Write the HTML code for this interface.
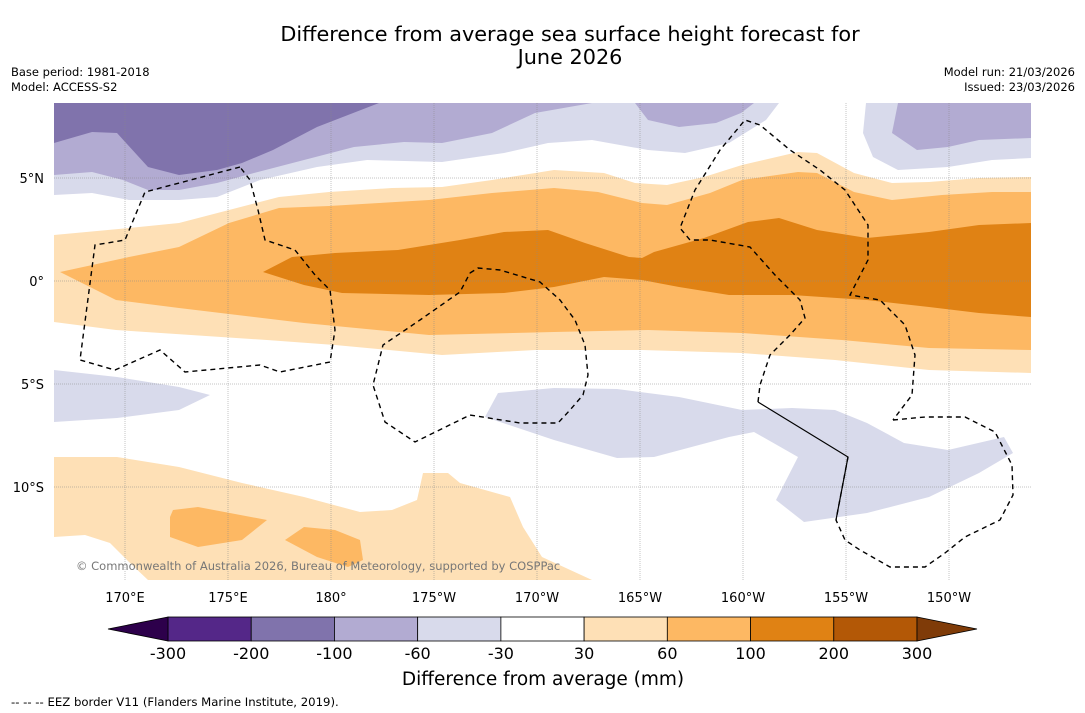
<!DOCTYPE html>
<html><head><meta charset="utf-8">
<style>
body{margin:0;background:#fff;font-family:"DejaVu Sans","Liberation Sans",sans-serif;}
#wrap{position:relative;width:1085px;height:713px;overflow:hidden;background:#fff;}
</style></head>
<body>
<div id="wrap">
<svg id="svg" width="1085" height="713" xmlns="http://www.w3.org/2000/svg" font-family="DejaVu Sans, Liberation Sans, sans-serif">
<text x="570" y="41" text-anchor="middle" font-size="20.8" fill="#000">Difference from average sea surface height forecast for</text>
<text x="570" y="64" text-anchor="middle" font-size="20.8" fill="#000">June 2026</text>
<text x="11" y="76" font-size="11.5">Base period: 1981-2018</text>
<text x="11" y="91" font-size="11.5">Model: ACCESS-S2</text>
<text x="1075" y="76" font-size="11.5" text-anchor="end">Model run: 21/03/2026</text>
<text x="1075" y="91" font-size="11.5" text-anchor="end">Issued: 23/03/2026</text>
<defs><clipPath id="mapclip"><rect x="54" y="103" width="977" height="477"/></clipPath></defs>
<g id="map" clip-path="url(#mapclip)"></g>
<g id="axes"></g>
<g id="cbar"></g>
<text x="543" y="685" text-anchor="middle" font-size="18.5">Difference from average (mm)</text>
<text x="11" y="706" font-size="11.7">--  --  -- EEZ border V11 (Flanders Marine Institute, 2019).</text>
</svg>
</div>
<script>
// Colorbar data
const levels = [-300,-200,-100,-60,-30,30,60,100,200,300];
const levelColors = ["#542788","#8073ac","#b2abd2","#d8daeb","#ffffff","#fee0b6","#fdb863","#e08214","#b35806"];
const extendColors = ["#2d004b","#7f3b08"];
// Axis ticks
const lonTicks = [170,175,180,185,190,195,200,205,210];
const lonLabels = ["170°E","175°E","180°","175°W","170°W","165°W","160°W","155°W","150°W"];
const latTicks = [5,0,-5,-10];
const latLabels = ["5°N","0°","5°S","10°S"];

const NS="http://www.w3.org/2000/svg";
const xLon = lon => 125 + (lon-170)*20.6;
const yLat = lat => 281 - lat*20.6;
function mk(tag, attrs, parent){const e=document.createElementNS(NS,tag);for(const k in attrs)e.setAttribute(k,attrs[k]);parent.appendChild(e);return e;}
const map=document.getElementById('map');
const pts=a=>a.map(p=>p.join(',')).join(' ');

// Contour fill shapes (map geometry, screen coords)
const shapes = [
 ["#d8daeb","band-light-purple-north",[[54,103],[779,103],[766,120],[729,143],[685,153],[648,150],[592,140],[548,143],[504,153],[442,162],[367,160],[317,167],[260,180],[217,197],[179,200],[129,200],[92,193],[54,195]]],
 ["#d8daeb","band-light-purple-ne",[[866,103],[863,133],[873,157],[898,170],[948,167],[992,160],[1031,158],[1031,103]]],
 ["#b2abd2","band-mid-purple-north",[[54,103],[592,103],[535,113],[492,133],[442,143],[404,142],[354,147],[304,160],[254,173],[217,183],[179,190],[148,190],[123,180],[92,172],[54,175]]],
 ["#b2abd2","band-mid-purple-center",[[635,103],[648,120],[679,127],[716,123],[741,113],[754,103]]],
 ["#b2abd2","band-mid-purple-ne",[[898,103],[892,133],[917,150],[948,147],[979,140],[1031,138],[1031,103]]],
 ["#8073ac","band-dark-purple-nw",[[54,143],[92,132],[117,133],[148,167],[179,175],[217,170],[242,163],[273,150],[317,127],[379,103],[54,103]]],
 ["#fee0b6","band-light-orange-equator",[[54,235],[129,228],[179,223],[229,210],[279,197],[329,192],[392,188],[442,187],[492,180],[554,170],[604,173],[635,183],[667,185],[704,177],[742,165],[798,152],[817,153],[854,173],[892,183],[929,182],[979,178],[1031,177],[1031,373],[929,370],[835,360],[742,353],[642,350],[535,350],[442,355],[335,345],[267,340],[116,330],[54,322]]],
 ["#fdb863","band-mid-orange-equator",[[60,272],[129,257],[179,247],[229,223],[279,208],[329,206],[379,203],[429,200],[492,193],[554,188],[598,192],[642,203],[667,205],[710,193],[742,180],[798,172],[817,173],[854,192],[892,200],[942,195],[992,192],[1031,192],[1031,350],[929,348],[842,340],[742,333],[648,330],[554,332],[429,335],[304,323],[179,308],[116,300]]],
 ["#e08214","band-dark-orange-equator",[[263,272],[292,257],[335,253],[398,250],[460,240],[504,232],[548,230],[585,243],[629,257],[642,258],[654,252],[704,238],[748,222],[779,218],[817,230],[867,238],[929,232],[979,225],[1031,223],[1031,317],[979,313],[929,307],[867,300],[792,295],[729,295],[679,287],[642,280],[604,277],[554,287],[504,293],[429,295],[342,293],[304,285]]],
 ["#d8daeb","band-light-purple-west",[[54,370],[117,377],[179,387],[210,395],[179,410],[117,418],[54,422]]],
 ["#d8daeb","band-light-purple-south",[[498,393],[554,388],[617,389],[679,397],[742,410],[792,408],[835,410],[867,423],[904,443],[948,450],[1004,437],[1013,453],[979,473],[929,497],[867,513],[804,522],[776,500],[798,457],[754,432],[729,437],[654,457],[617,458],[554,440],[485,417]]],
 ["#fee0b6","band-light-orange-south",[[54,457],[117,457],[179,467],[242,483],[304,497],[360,512],[392,510],[417,500],[423,473],[448,473],[460,483],[510,497],[523,527],[542,557],[592,580],[148,580],[129,562],[110,543],[85,535],[54,537]]],
 ["#fdb863","island-mid-orange-a",[[173,510],[198,507],[267,520],[242,540],[198,547],[170,537],[170,517]]],
 ["#fdb863","island-mid-orange-b",[[285,540],[304,527],[335,530],[360,540],[363,560],[348,567],[317,557]]]
];
shapes.forEach(s=>{
 const p=mk('polygon',{points:pts(s[2]),fill:s[0]},map);
 
 
});

// gridlines
lonTicks.forEach(l=>{const g=mk('line',{x1:xLon(l),x2:xLon(l),y1:103,y2:580,stroke:'#888','stroke-width':0.5,'stroke-dasharray':'1,1'},map);
 
 });
latTicks.forEach(l=>{const g=mk('line',{x1:54,x2:1031,y1:yLat(l),y2:yLat(l),stroke:'#888','stroke-width':0.5,'stroke-dasharray':'1,1'},map);
 
 });

// EEZ borders
const eez = [
 [[240,167],[145,192],[125,240],[95,245],[80,360],[115,370],[160,350],[185,372],[260,365],[280,372],[330,362],[335,330],[330,290],[315,275],[295,250],[265,240],[258,210],[250,180],[240,167]],
 [[470,273],[478,268],[500,270],[540,282],[560,300],[575,320],[585,345],[588,375],[583,395],[570,410],[558,423],[520,423],[470,415],[415,442],[385,422],[373,385],[383,345],[420,320],[460,292],[470,273]],
 [[758,402],[760,385],[770,355],[790,335],[805,318],[800,300],[775,275],[750,247],[710,240],[690,240],[680,228],[695,190],[720,150],[745,120],[760,125],[790,150],[820,170],[845,190],[868,225],[868,260],[850,295],[880,300],[905,325],[915,355],[912,395],[893,420]],
 [[893,420],[925,417],[965,417],[995,432],[1012,465],[1013,495],[1000,520],[965,537],[945,553],[925,567],[890,567],[860,550],[845,540],[836,520],[848,457]]
];
eez.forEach(l=>{const p=mk('polyline',{points:pts(l),fill:'none',stroke:'#000','stroke-width':1.4,'stroke-dasharray':'5,4'},map);
 
 });
const sol=mk('polyline',{points:pts([[758,402],[848,457],[836,520]]),fill:'none',stroke:'#000','stroke-width':1.2},map);



// copyright
const cp=mk('text',{x:76,y:570,'font-size':11.5,fill:'#777'},map);
cp.textContent='© Commonwealth of Australia 2026, Bureau of Meteorology, supported by COSPPac';



// axis labels
const axes=document.getElementById('axes');
lonTicks.forEach((l,i)=>{const t=mk('text',{x:xLon(l),y:602,'text-anchor':'middle','font-size':13},axes);t.textContent=lonLabels[i];
 
 });
latTicks.forEach((l,i)=>{const t=mk('text',{x:44,y:yLat(l)+5,'text-anchor':'end','font-size':13},axes);t.textContent=latLabels[i];
 
 });

// colorbar
const cb=document.getElementById('cbar');
const cbX0=168, cbX1=917, cbY=617, cbH=24;
const segW=(cbX1-cbX0)/(levels.length-1);
const cbx=i=>cbX0+i*segW;
levelColors.forEach((c,i)=>{const r=mk('rect',{x:cbx(i),y:cbY,width:segW,height:cbH,fill:c,stroke:'#000','stroke-width':0.8},cb);
 
 });
const tl=mk('polygon',{points:pts([[cbX0,cbY],[108,cbY+cbH/2],[cbX0,cbY+cbH]]),fill:extendColors[0],stroke:'#000','stroke-width':0.8},cb);


const tr=mk('polygon',{points:pts([[cbX1,cbY],[977,cbY+cbH/2],[cbX1,cbY+cbH]]),fill:extendColors[1],stroke:'#000','stroke-width':0.8},cb);


levels.forEach((v,i)=>{const t=mk('text',{x:cbx(i),y:659,'text-anchor':'middle','font-size':16},cb);t.textContent=v;
 
 });
</script>
</body></html>
